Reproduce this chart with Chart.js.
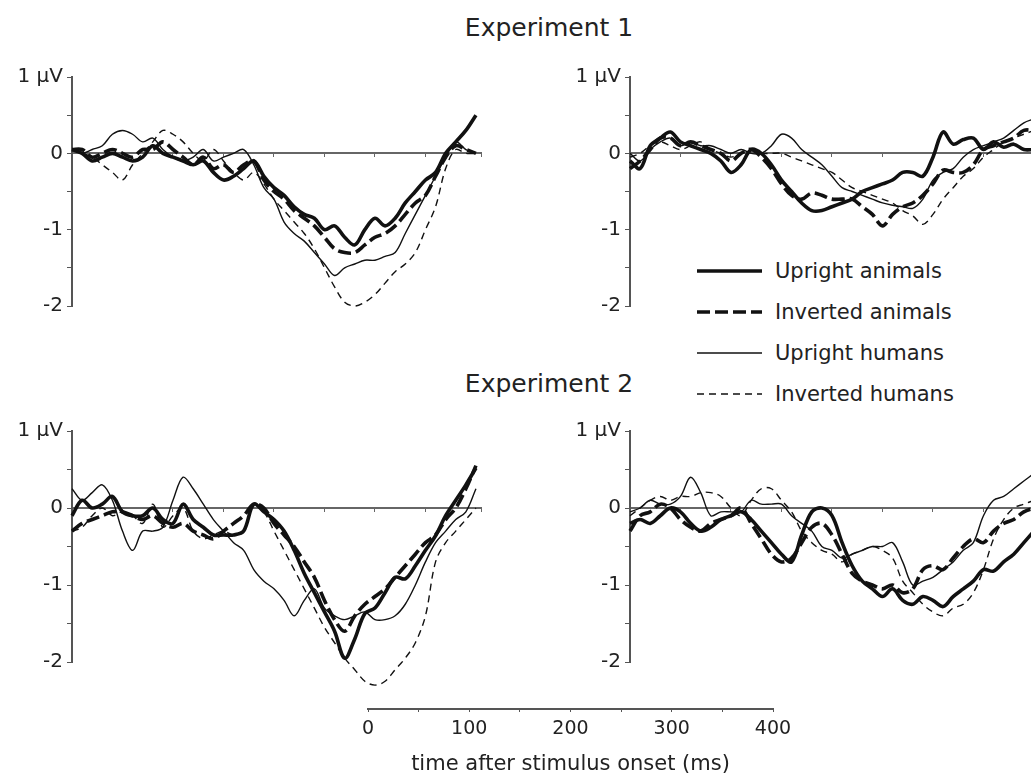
<!DOCTYPE html>
<html>
<head>
<meta charset="utf-8">
<script src="https://cdn.jsdelivr.net/npm/chart.js@4.4.1/dist/chart.umd.min.js"></script>
<style>
  body { margin: 0; width: 1031px; height: 783px; overflow: hidden; background: #fff; position: relative; font-family: "DejaVu Sans", sans-serif; color: #222; }
  canvas { position: absolute; }
  .title { position: absolute; width: 300px; left: 399px; text-align: center; font-size: 25px; line-height: 25px; }
  #legend { position: absolute; left: 697px; top: 250px; }
  .row { display: flex; align-items: center; height: 41px; font-size: 21px; }
  .row svg { margin-right: 13px; }
</style>
</head>
<body>

<div class="title" style="top:15px">Experiment 1</div>
<div class="title" style="top:371px">Experiment 2</div>

<div id="legend"></div>

<canvas id="exp1Left" width="490" height="261" style="left:0;top:61px"></canvas>
<canvas id="exp1Right" width="470" height="261" style="left:570px;top:61px"></canvas>
<canvas id="exp2Left" width="490" height="277" style="left:0;top:415px"></canvas>
<canvas id="exp2Right" width="470" height="277" style="left:570px;top:415px"></canvas>
<canvas id="timeAxis" width="480" height="103" style="left:330px;top:680px"></canvas>

<script>
// sample times (ms) shared by every panel
const times = [0, 10, 20, 30, 40, 50, 60, 70, 80, 90, 100, 110, 120, 130, 140, 150, 160, 170, 180, 190,
  200, 210, 220, 230, 240, 250, 260, 270, 280, 290, 300, 310, 320, 330, 340, 350, 360, 370, 380, 390, 400];

// Experiment 1, left
const exp1LeftUA = [0.05, 0.0, -0.1, -0.05, 0.0, -0.05, -0.1, -0.05, 0.1, 0.0, -0.05, -0.1, -0.15, -0.1, -0.25, -0.35, -0.3, -0.2, -0.1, -0.3,
  -0.45, -0.55, -0.7, -0.8, -0.85, -1.0, -0.95, -1.1, -1.2, -1.0, -0.85, -0.95, -0.85, -0.65, -0.5, -0.35, -0.25, 0.0, 0.15, 0.3, 0.5];
const exp1LeftIA = [0.05, 0.05, -0.05, 0.0, 0.05, 0.0, -0.05, 0.05, 0.05, 0.15, 0.05, -0.05, -0.15, -0.05, -0.2, -0.15, -0.25, -0.15, -0.1, -0.35,
  -0.5, -0.6, -0.75, -0.85, -0.95, -1.1, -1.25, -1.3, -1.3, -1.2, -1.1, -1.05, -0.95, -0.8, -0.65, -0.55, -0.3, -0.05, 0.1, 0.05, 0.0];
const exp1LeftUH = [0.05, 0.0, 0.05, 0.1, 0.25, 0.3, 0.25, 0.15, 0.2, 0.05, -0.05, -0.1, -0.05, 0.05, -0.1, -0.05, 0.0, 0.05, -0.15, -0.45,
  -0.6, -0.9, -1.05, -1.15, -1.3, -1.45, -1.6, -1.5, -1.45, -1.4, -1.4, -1.35, -1.3, -1.05, -0.8, -0.55, -0.3, -0.05, 0.15, 0.05, 0.0];
const exp1LeftIH = [0.05, 0.0, -0.05, -0.15, -0.25, -0.35, -0.15, 0.0, 0.15, 0.3, 0.25, 0.15, 0.0, -0.1, 0.05, -0.1, -0.25, -0.35, -0.25, -0.4,
  -0.6, -0.75, -0.9, -1.05, -1.25, -1.5, -1.75, -1.95, -2.0, -1.95, -1.85, -1.7, -1.55, -1.45, -1.3, -1.0, -0.7, -0.2, 0.05, 0.0, 0.0];

// Experiment 1, right
const exp1RightUA = [-0.1, -0.2, 0.1, 0.2, 0.28, 0.15, 0.1, 0.05, 0.0, -0.1, -0.25, -0.15, 0.05, 0.0, -0.15, -0.35, -0.5, -0.65, -0.75, -0.75,
  -0.7, -0.65, -0.6, -0.5, -0.45, -0.4, -0.35, -0.25, -0.25, -0.3, -0.05, 0.28, 0.12, 0.18, 0.2, 0.05, 0.15, 0.08, 0.12, 0.05, 0.05];
const exp1RightIA = [-0.2, -0.1, 0.05, 0.2, 0.2, 0.1, 0.15, 0.1, 0.05, 0.0, -0.1, 0.0, 0.05, -0.05, -0.2, -0.4, -0.55, -0.6, -0.52, -0.55,
  -0.6, -0.6, -0.6, -0.7, -0.8, -0.95, -0.8, -0.7, -0.65, -0.55, -0.4, -0.22, -0.25, -0.25, -0.15, 0.05, 0.1, 0.15, 0.2, 0.3, 0.3];
const exp1RightUH = [0.0, -0.1, 0.05, 0.15, 0.2, 0.1, 0.15, 0.1, 0.1, 0.05, 0.0, 0.05, 0.0, 0.0, 0.1, 0.25, 0.2, 0.05, -0.05, -0.15,
  -0.3, -0.45, -0.5, -0.55, -0.6, -0.65, -0.68, -0.7, -0.72, -0.6, -0.35, -0.25, -0.2, -0.05, 0.05, 0.1, 0.15, 0.2, 0.3, 0.4, 0.45];
const exp1RightIH = [-0.05, 0.0, 0.1, 0.15, 0.1, 0.05, 0.1, 0.15, 0.05, 0.0, -0.05, 0.0, 0.05, 0.0, 0.0, 0.0, -0.05, -0.1, -0.15, -0.2,
  -0.25, -0.35, -0.45, -0.5, -0.55, -0.6, -0.65, -0.75, -0.82, -0.93, -0.8, -0.6, -0.45, -0.3, -0.2, -0.05, 0.05, 0.15, 0.2, 0.25, 0.3];

// Experiment 2, left
const exp2LeftUA = [-0.1, 0.1, 0.0, 0.05, 0.15, -0.05, -0.1, -0.1, 0.0, -0.15, -0.2, 0.05, -0.15, -0.25, -0.35, -0.35, -0.35, -0.3, 0.05, -0.05,
  -0.15, -0.3, -0.55, -0.85, -1.1, -1.35, -1.6, -1.95, -1.7, -1.37, -1.3, -1.1, -0.9, -0.92, -0.75, -0.55, -0.36, -0.1, 0.1, 0.3, 0.52];
const exp2LeftIA = [-0.3, -0.2, -0.15, -0.1, -0.05, -0.05, -0.1, -0.15, -0.1, -0.2, -0.25, -0.2, -0.3, -0.35, -0.4, -0.3, -0.2, -0.1, 0.05, 0.0,
  -0.2, -0.35, -0.5, -0.7, -0.9, -1.2, -1.45, -1.6, -1.4, -1.25, -1.15, -1.05, -0.9, -0.75, -0.6, -0.45, -0.35, -0.15, 0.0, 0.25, 0.55];
const exp2LeftUH = [0.25, 0.1, 0.2, 0.3, 0.1, -0.3, -0.55, -0.3, -0.3, -0.25, 0.1, 0.4, 0.25, 0.05, -0.15, -0.3, -0.45, -0.55, -0.8, -0.95,
  -1.05, -1.2, -1.4, -1.2, -1.05, -1.3, -1.4, -1.45, -1.4, -1.35, -1.45, -1.45, -1.4, -1.25, -1.0, -0.7, -0.45, -0.3, -0.15, -0.05, 0.25];
const exp2LeftIH = [-0.3, -0.25, -0.1, 0.0, -0.1, -0.05, -0.1, -0.2, 0.05, -0.25, -0.1, 0.0, -0.3, -0.4, -0.35, -0.3, -0.35, -0.3, 0.05, -0.05,
  -0.3, -0.55, -0.8, -1.05, -1.3, -1.55, -1.75, -1.95, -2.1, -2.25, -2.3, -2.25, -2.1, -1.95, -1.75, -1.4, -0.7, -0.45, -0.3, -0.15, 0.0];

// Experiment 2, right
const exp2RightUA = [-0.2, -0.15, -0.2, -0.1, 0.0, -0.05, -0.2, -0.3, -0.25, -0.15, -0.1, -0.05, -0.15, -0.3, -0.45, -0.6, -0.7, -0.35, -0.05, 0.0,
  -0.1, -0.45, -0.75, -0.95, -1.05, -1.15, -1.05, -1.2, -1.25, -1.15, -1.2, -1.28, -1.15, -1.05, -0.95, -0.8, -0.82, -0.7, -0.6, -0.45, -0.3];
const exp2RightIA = [-0.3, -0.1, -0.05, 0.05, 0.0, -0.15, -0.25, -0.3, -0.2, -0.15, -0.1, 0.0, -0.2, -0.4, -0.6, -0.7, -0.65, -0.45, -0.25, -0.2,
  -0.35, -0.6, -0.85, -0.95, -1.0, -1.05, -1.0, -1.1, -1.05, -0.8, -0.75, -0.8, -0.65, -0.5, -0.4, -0.45, -0.3, -0.2, -0.15, -0.05, 0.0];
const exp2RightUH = [-0.05, 0.0, 0.1, 0.05, 0.05, 0.15, 0.4, 0.2, -0.1, -0.05, -0.05, -0.05, 0.1, 0.05, 0.05, 0.05, -0.1, -0.2, -0.3, -0.5,
  -0.55, -0.65, -0.6, -0.55, -0.5, -0.5, -0.45, -0.7, -1.0, -0.95, -0.9, -0.8, -0.7, -0.55, -0.45, -0.1, 0.1, 0.15, 0.25, 0.35, 0.45];
const exp2RightIH = [-0.1, 0.0, 0.1, 0.15, 0.1, 0.15, 0.15, 0.2, 0.2, 0.15, 0.0, -0.1, 0.1, 0.25, 0.25, 0.1, -0.05, -0.3, -0.45, -0.55,
  -0.6, -0.7, -0.6, -0.55, -0.5, -0.55, -0.65, -0.95, -1.1, -1.25, -1.35, -1.4, -1.3, -1.25, -1.1, -0.8, -0.4, -0.15, 0.0, 0.05, 0.1];

// legend / line styles
const seriesNames = ["Upright animals", "Inverted animals", "Upright humans", "Inverted humans"];
const lineWidths = [3.6, 3.6, 1.4, 1.4];
const lineDashes = [[], [13, 5], [], [7, 5]];

// y axis ticks (uV) and scale bar ticks (ms)
const yMin = -2, yMax = 1, yStep = 0.5;
const timeMax = 405;
const barMax = 400, barStep = 50;

Chart.defaults.font.family = "DejaVu Sans";
Chart.defaults.color = "#222";

function makeDatasets(series) {
  return series.map((vals, i) => ({
    label: seriesNames[i],
    data: vals.map((v, k) => ({ x: times[k], y: v })),
    borderColor: "#111",
    borderWidth: lineWidths[i],
    borderDash: lineDashes[i],
    pointRadius: 0,
    tension: 0.35,
    fill: false,
    clip: false
  }));
}

function drawPanel(id, series, axisWidth, rightPad, bottomPad) {
  new Chart(document.getElementById(id), {
    type: "line",
    data: { datasets: makeDatasets(series) },
    options: {
      responsive: false,
      animation: false,
      events: [],
      layout: { padding: { top: 14, bottom: bottomPad, left: 0, right: rightPad } },
      plugins: { legend: { display: false }, tooltip: { enabled: false } },
      scales: {
        x: {
          type: "linear",
          min: 0,
          max: timeMax,
          position: { y: 0 },
          border: { color: "#666", width: 2 },
          grid: { drawOnChartArea: false, tickLength: 3, color: "#666" },
          ticks: { display: false, stepSize: 50 }
        },
        y: {
          min: yMin,
          max: yMax,
          border: { color: "#555", width: 2 },
          grid: { drawOnChartArea: false, tickLength: 5, color: "#555" },
          ticks: {
            stepSize: yStep,
            padding: 4,
            font: { size: 20 },
            callback: v => v === 1 ? "1 μV" : (Number.isInteger(v) ? String(v) : "")
          },
          afterFit: s => { s.width = axisWidth; }
        }
      }
    }
  });
}

function drawTimeAxis() {
  new Chart(document.getElementById("timeAxis"), {
    type: "line",
    data: { datasets: [] },
    options: {
      responsive: false,
      animation: false,
      events: [],
      layout: { padding: { top: 0, bottom: 2, left: 38, right: 37 } },
      plugins: { legend: { display: false }, tooltip: { enabled: false } },
      scales: {
        x: {
          type: "linear",
          min: 0,
          max: barMax,
          border: { color: "#555", width: 2 },
          grid: { drawOnChartArea: false, tickLength: 3, color: "#555" },
          ticks: {
            stepSize: barStep,
            padding: 6,
            maxRotation: 0,
            font: { size: 19 },
            callback: v => v % 100 === 0 ? String(v) : ""
          },
          title: { display: true, text: "time after stimulus onset (ms)", font: { size: 21 }, padding: { top: 4, bottom: 4 } },
          afterFit: s => { s.height = 72; }
        },
        y: { display: false }
      }
    }
  });
}

function renderLegend() {
  const box = document.getElementById("legend");
  box.innerHTML = seriesNames.map((name, i) => `
    <div class="row">
      <svg width="65" height="8"><line x1="0" y1="4" x2="65" y2="4" stroke="#111"
        stroke-width="${lineWidths[i]}" stroke-dasharray="${lineDashes[i].join(",") || "none"}"/></svg>
      <span>${name}</span>
    </div>`).join("");
}

// MAIN
drawPanel("exp1Left", [exp1LeftUA, exp1LeftIA, exp1LeftUH, exp1LeftIH], 72, 9, 14);
drawPanel("exp1Right", [exp1RightUA, exp1RightIA, exp1RightUH, exp1RightIH], 60, 1, 14);
drawPanel("exp2Left", [exp2LeftUA, exp2LeftIA, exp2LeftUH, exp2LeftIH], 72, 9, 30);
drawPanel("exp2Right", [exp2RightUA, exp2RightIA, exp2RightUH, exp2RightIH], 60, 1, 30);
drawTimeAxis();
renderLegend();
</script>
</body>
</html>
